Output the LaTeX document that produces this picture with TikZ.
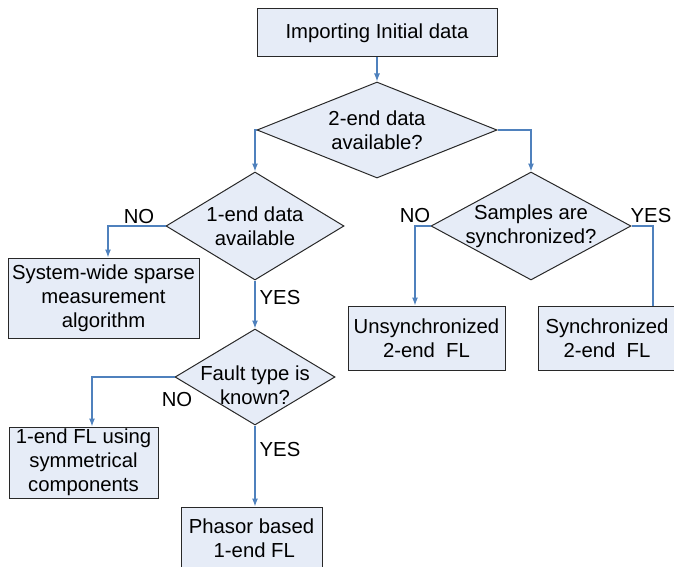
\documentclass[tikz,border=0pt]{standalone}
\usepackage{fontspec}
\setmainfont{Liberation Sans}
\usetikzlibrary{shapes.geometric,arrows.meta}
\definecolor{flowfill}{RGB}{230,236,247}
\definecolor{flowline}{RGB}{79,129,189}
\definecolor{flowedge}{RGB}{40,40,40}

\begin{document}
\begin{tikzpicture}[x=1pt,y=-1pt,
    every node/.style={font=\fontsize{20.3pt}{24pt}\selectfont},
    procbox/.style={draw=flowedge,fill=flowfill,line width=1pt,align=center,inner sep=0pt},
    decision/.style={diamond,draw=flowedge,fill=flowfill,line width=1pt,inner sep=0pt},
    flow/.style={draw=flowline,line width=1.2pt},
    flowarr/.style={flow,-{Latex[length=8pt,width=6pt]}},
    answer/.style={inner sep=0pt}]
        \useasboundingbox (0,0) rectangle (674,567);
        \clip (0,0) rectangle (674,567);
            \node[procbox,minimum width=240pt,minimum height=48pt] (start) at (377,33) {Importing Initial data};
            \node[decision,minimum width=240pt,minimum height=96pt,
                label={[align=center]center:2-end data\\available?}] (twoend) at (377,130) {};
            \node[decision,minimum width=178pt,minimum height=108pt,
                label={[align=center]center:1-end data\\available}] (oneend) at (255,226) {};
            \node[decision,minimum width=200pt,minimum height=108pt,
                label={[align=center]center:Samples are\\synchronized?}] (sync) at (531,226) {};
            \node[decision,minimum width=160pt,minimum height=96pt,
                label={[align=center,yshift=-8pt]center:Fault type is\\known?}] (ftype) at (255,377) {};
            \node[procbox,minimum width=191pt,minimum height=80pt] (sparse) at (103.5,298)
                {System-wide sparse\\measurement\\algorithm};
            \node[procbox,minimum width=157pt,minimum height=64pt] (unsyncfl) at (426.5,338)
                {Unsynchronized\\2-end\ \ FL};
            \node[procbox,minimum width=138pt,minimum height=64pt] (syncfl) at (607,338)
                {Synchronized\\2-end\ \ FL};
            \node[procbox,minimum width=149pt,minimum height=71pt] (symfl) at (83.5,462.5)
                {1-end FL using\\symmetrical\\components};
            \node[procbox,minimum width=141pt,minimum height=62pt] (phasorfl) at (251.5,538)
                {Phasor based\\\ 1-end FL};
            \draw[flowarr] (start) -- (twoend);
            \draw[flowarr] (twoend.west) -| (oneend.north);
            \draw[flowarr] (twoend.east) -| (sync.north);
            \draw[flowarr] (oneend.west) -| ([xshift=4.5pt]sparse.north);
            \draw[flowarr] (oneend.south) -- (ftype.north);
            \draw[flowarr] (sync.west) -| ([xshift=-11.5pt]unsyncfl.north);
            \draw[flow] (sync.east) -| ([xshift=46pt]syncfl.north);
            \draw[flowarr] (ftype.west) -| ([xshift=8.5pt]symfl.north);
            \draw[flowarr] (ftype.south) -- (ftype.south |- phasorfl.north);
            \node[answer] (no1) at (139,217) {NO};
            \node[answer] (yes1) at (280,298) {YES};
            \node[answer] (no2) at (415,216) {NO};
            \node[answer] (yes2) at (651,216) {YES};
            \node[answer] (no3) at (177,400) {NO};
            \node[answer] (yes3) at (280,450) {YES};
\end{tikzpicture}
\end{document}
